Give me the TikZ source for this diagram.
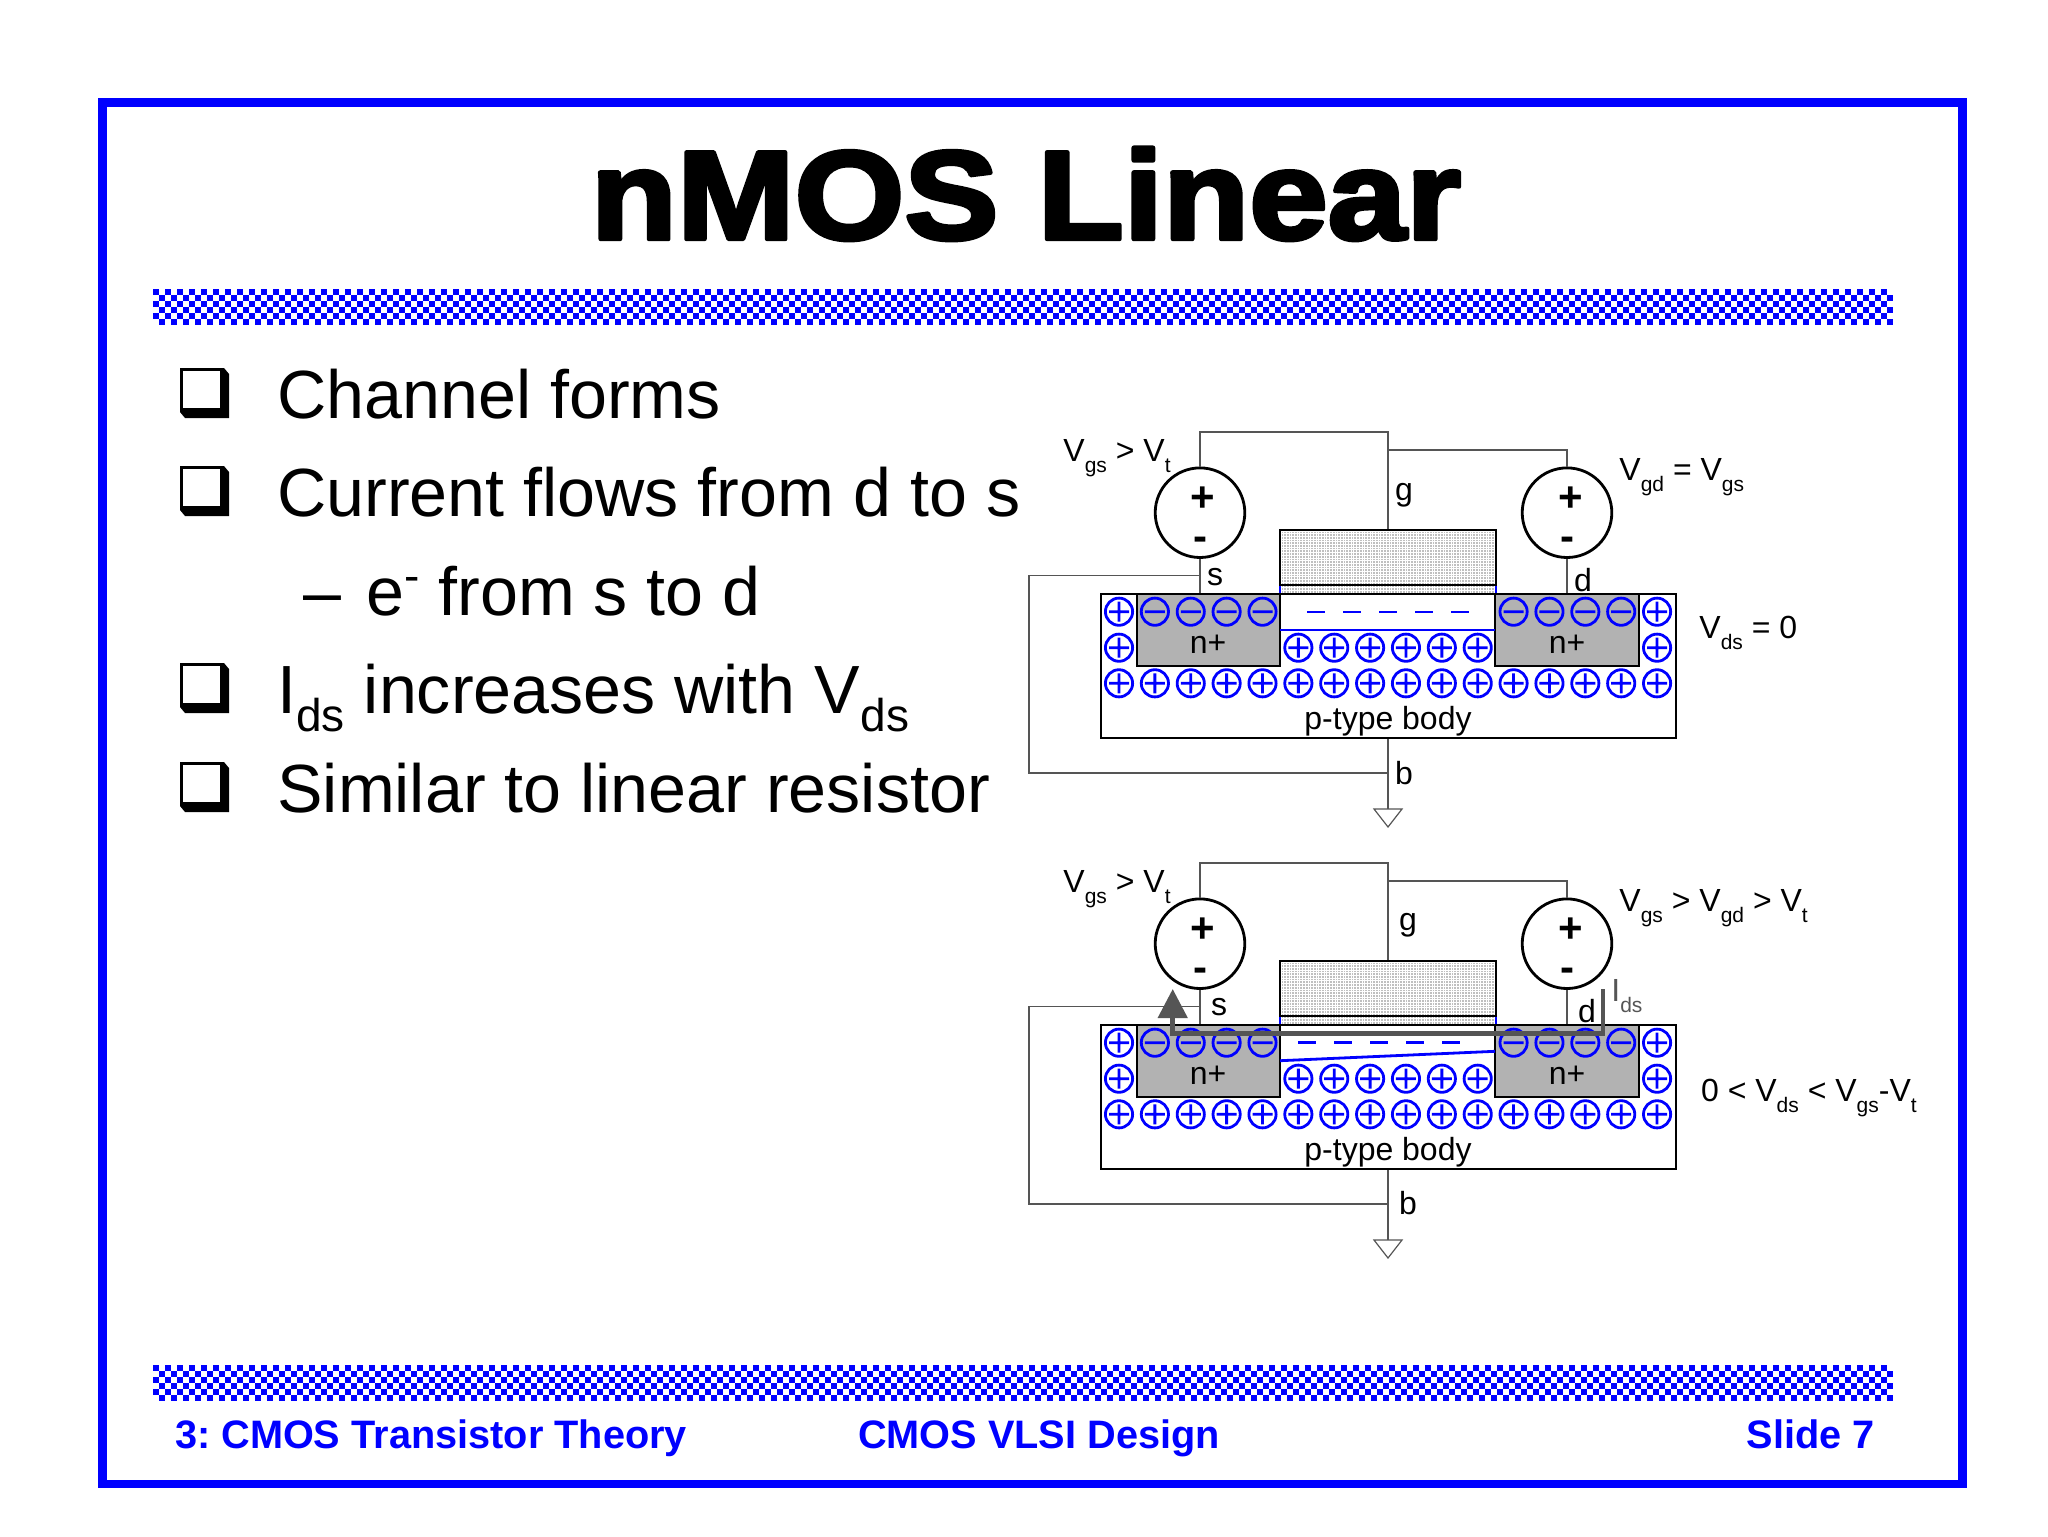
\documentclass[tikz,border=0pt]{standalone}
\usepackage{fontspec}
\usetikzlibrary{arrows.meta}
\setmainfont{Liberation Sans}
\newfontfamily\titlefont[FakeBold=3.5,FakeStretch=1.12]{Liberation Sans Bold}
\newfontfamily\footfont{Liberation Sans Bold}
\definecolor{pureblue}{HTML}{0000FF}
\definecolor{wiregray}{HTML}{555555}
\definecolor{nplus}{HTML}{B2B2B2}
\definecolor{gatefill}{HTML}{C0C0C0}
\newcommand{\lsub}[1]{\raisebox{-5.5pt}{\fontsize{10.5}{10.5}\selectfont #1}}
\newcommand{\bsub}[1]{\raisebox{-9pt}{\fontsize{23}{23}\selectfont #1}}
\tikzset{
  x=0.5pt,y=-0.5pt,
  framebox/.style={draw=pureblue,line width=4.2pt,miter limit=10},
  wire/.style={draw=wiregray,line width=0.6pt},
  device/.style={draw=black,line width=1.35pt},
  chargeline/.style={draw=pureblue,line width=1.4pt},
  vsource/.style={circle,draw=black,line width=1.4pt,minimum size=44.8pt,inner sep=0pt,fill=white},
  lbl/.style={font=\fontsize{16}{18}\selectfont,inner sep=0pt,anchor=base west,text=black},
  lblc/.style={font=\fontsize{16}{18}\selectfont,inner sep=0pt,anchor=center,text=black},
  sign/.style={font=\footfont\fontsize{21}{21}\selectfont,inner sep=0pt,anchor=center,text=black},
  bodytext/.style={font=\fontsize{34.1}{40}\selectfont,inner sep=0pt,anchor=base west,text=black},
  foottext/.style={font=\footfont\fontsize{19.85}{24}\selectfont,inner sep=0pt,text=pureblue},
  currentpath/.style={draw=wiregray,line width=2.3pt,-{Triangle[length=14.5pt,width=14.5pt]}},
}
\makeatletter
\newcommand{\band}[1]{%
  \foreach \cx in {0,...,289}{\foreach \cy in {0,...,5}{%
    \pgfmathtruncatemacro{\pm@rity}{mod(\cx+\cy,2)}%
    \ifnum\pm@rity=0
      \fill[pureblue] ({153+6*\cx},{#1+6*\cy}) rectangle ++(6,6);
    \fi
  }}%
}
\makeatother
\newcommand{\plusc}[2]{%
  \draw[chargeline] (#1,#2) circle[radius=6.8pt] ({#1-10},#2) -- ({#1+10},#2) (#1,{#2-10}) -- (#1,{#2+10});}
\newcommand{\minusc}[2]{%
  \draw[chargeline] (#1,#2) circle[radius=6.8pt] ({#1-10},#2) -- ({#1+10},#2);}
\newcommand{\bulletbox}[1]{%
  \fill[black] (180,#1) -- (224,#1) -- (229,{#1+6}) -- (229,{#1+50}) -- (185,{#1+50}) -- (180,{#1+44}) -- cycle;
  \fill[white] (183.3,{#1+3}) rectangle (219.5,{#1+40});}
\begin{document}
\begin{tikzpicture}
\useasboundingbox (0,0) rectangle (2048,1536);
\fill[white] (0,0) rectangle (2048,1536);
\draw[framebox] (102.5,102.5) rectangle (1962.5,1484);
\band{289}
\band{1365}
\node[font=\titlefont\fontsize{63}{70}\selectfont,inner sep=0pt,anchor=base,text=black] (title) at (1026,239) {\special{pdf:code 1 j}nMOS Linear};
% bullets
\foreach \by in {368,466,663,762}{\bulletbox{\by}}
\node[bodytext] (b1) at (277,418) {Channel forms};
\node[bodytext] (b2) at (277,516) {Current flows from d to s};
\node[bodytext] (b3a) at (302.6,615) {–};
\node[bodytext] (b3) at (366,615) {e\raisebox{12pt}{\fontsize{23}{23}\selectfont -} from s to d};
\node[bodytext] (b4) at (277,713) {I\bsub{ds} increases with V\bsub{ds}};
\node[bodytext] (b5) at (277,812) {Similar to linear resistor};
% devices
\foreach \k/\dy in {1/0,2/431}{
\begin{scope}[shift={(0,\dy)}]
  \fill[gatefill] (1280,530) rectangle (1496,594);
  \foreach \gl in {0,...,23}{\draw[white,line width=0.45pt] (1280,{531+2.7*\gl}) -- (1496,{531+2.7*\gl});}
  \foreach \gl in {0,...,79}{\draw[white,line width=0.45pt] ({1281+2.7*\gl},530) -- ({1281+2.7*\gl},594);}
  \coordinate (bodytl\k) at (1101,594);
  \coordinate (bodybr\k) at (1676,738);
  \coordinate (gatetop\k) at (1388,530);
  \coordinate (bodybot\k) at (1388,738);
  \node[vsource] (srcL\k) at (1200,512.7) {};
  \node[vsource] (srcR\k) at (1567,512.7) {};
  \node[sign] (plusL\k) at (1203,499) {+};
  \node[sign] (minusL\k) at (1200,544) {-};
  \node[sign] (plusR\k) at (1571,499) {+};
  \node[sign] (minusR\k) at (1567,544) {-};
  \coordinate (topL\k) at (1200,432);
  \coordinate (topG\k) at (1388,432);
  \coordinate (topM\k) at (1388,450);
  \coordinate (topR\k) at (1567,450);
  \coordinate (sT\k) at (1200,594);
  \coordinate (sB\k) at (1200,575.7);
  \coordinate (dT\k) at (1567,594);
  \coordinate (lf1\k) at (1029,575.7);
  \coordinate (lf2\k) at (1029,773);
  \coordinate (bJ\k) at (1388,773);
  \coordinate (gndtop\k) at (1388,809);
  \draw[wire] (srcL\k.north) -- (topL\k) -- (topG\k) -- (gatetop\k);
  \draw[wire] (topM\k) -- (topR\k) -- (srcR\k.north);
  \draw[wire] (srcL\k.south) -- (sT\k);
  \draw[wire] (srcR\k.south) -- (dT\k);
  \draw[wire] (sB\k) -- (lf1\k) -- (lf2\k) -- (bJ\k);
  \draw[wire] (bodybot\k) -- (gndtop\k);
  \draw[wire,fill=white] (1374,809) -- (1402,809) -- (1388,827) -- cycle;
  % n+ regions and gate
  \draw[device,fill=nplus] (1137,594) rectangle (1280,666);
  \draw[device,fill=nplus] (1495,594) rectangle (1639,666);
  \draw[device] (bodytl\k) rectangle (bodybr\k);
  \draw[device] (1280,594) -- (1280,530) -- (1496,530) -- (1496,594);
  \draw[device] (1280,585) -- (1496,585);
  \draw[chargeline] (1280,586) -- (1280,593) (1496,586) -- (1496,593);
  % charges
  \foreach \i in {0,...,15}{\pgfmathsetmacro{\cxx}{1119+35.87*\i}\plusc{\cxx}{683.3}}
  \foreach \i in {0,5,6,7,8,9,10,15}{\pgfmathsetmacro{\cxx}{1119+35.87*\i}\plusc{\cxx}{647.7}}
  \foreach \i in {0,15}{\pgfmathsetmacro{\cxx}{1119+35.87*\i}\plusc{\cxx}{611.7}}
  \foreach \i in {1,2,3,4,11,12,13,14}{\pgfmathsetmacro{\cxx}{1119+35.87*\i}\minusc{\cxx}{611.7}}
  \node[lblc] (np1\k) at (1208,644) {n+};
  \node[lblc] (np2\k) at (1567,644) {n+};
  \node[lbl,anchor=base] (body\k) at (1388,729) {p-type body};
\end{scope}
}
% device 1 specifics
\draw[chargeline] (1280,630) -- (1495,630);
\foreach \x in {1316,1352,1388,1424,1460}{\draw[chargeline] ({\x-9},612) -- ({\x+9},612);}
\node[lblc] (g1) at (1404,495) {g};
\node[lblc] (s1) at (1215,577) {s};
\node[lblc] (d1) at (1583,580) {d};
\node[lblc] (bb1) at (1404,773) {b};
\node[lbl] (vgs1) at (1063,461.7) {V\lsub{gs} > V\lsub{t}};
\node[lbl] (vgd1) at (1619,480.7) {V\lsub{gd} = V\lsub{gs}};
\node[lbl] (vds1) at (1699,638) {V\lsub{ds} = 0};
% device 2 specifics
\draw[chargeline] (1280,1060.7) -- (1495,1051.3);
\foreach \x in {1307,1343,1379,1415,1451}{\draw[chargeline] ({\x-9},1042.7) -- ({\x+9},1042.7);}
\node[lblc] (g2) at (1408,925) {g};
\node[lblc] (s2) at (1219,1007) {s};
\node[lblc] (d2) at (1587,1011) {d};
\node[lblc] (bb2) at (1408,1203) {b};
\node[lbl] (vgs2) at (1063,892.7) {V\lsub{gs} > V\lsub{t}};
\node[lbl] (vgd2) at (1619,911.7) {V\lsub{gs} > V\lsub{gd} > V\lsub{t}};
\node[lbl] (vds2) at (1700.7,1101) {0 < V\lsub{ds} < V\lsub{gs}-V\lsub{t}};
\coordinate (iStart) at (1603,989);
\coordinate (iC1) at (1603,1033.7);
\coordinate (iC2) at (1172.7,1033.7);
\coordinate (iEnd) at (1172.7,989);
\draw[currentpath] (iStart) -- (iC1) -- (iC2) -- (iEnd);
\node[lbl,text=wiregray] (ids) at (1611,1001.7) {I\lsub{ds}};
% footer
\node[foottext,anchor=base west] (f1) at (175,1448.5) {3:\hspace{-2pt} CMOS Transistor Theory};
\node[foottext,anchor=base] (f2) at (1039,1448.5) {CMOS VLSI Design};
\node[foottext,anchor=base east] (f3) at (1875,1448.5) {Slide 7};
\end{tikzpicture}
\end{document}
